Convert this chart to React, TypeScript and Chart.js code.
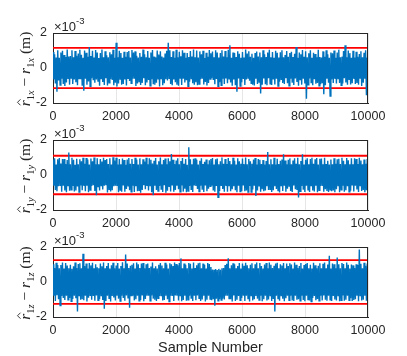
import React, { useEffect, useRef } from "react";
import { Chart, registerables } from "chart.js";

Chart.register(...registerables);

// ---------------- data ----------------
// Estimation error samples, in units of 1e-5 m (plotted as x10^-3 m).
const SAMPLE_MAX = 10000;
const xTickStep = 2000;
const yTickValues = [-2, 0, 2];
const axisLetters = ["x", "y", "z"];
const thresholds = [1.15, 1.1, 1.25]; // x10^-3 m

const errX = [
  92,-65,78,-88,60,-136,102,-72,58,-97,88,-62,99,-91,74,-103,63,-83,105,-59,
  66,-95,69,-57,101,-92,61,-66,97,-81,70,-99,83,-60,104,-64,76,-101,58,-130,
  100,-62,87,-96,64,-77,120,-104,68,-59,98,-70,60,-84,103,-65,89,-75,57,-102,
  85,-60,106,-80,62,-97,96,-58,73,-100,61,-85,90,-63,79,-68,104,-99,59,-84,
  144,-105,61,-88,99,-63,86,-95,58,-91,93,-66,64,-100,92,-59,97,-74,60,-87,
  103,-62,88,-61,95,-103,70,-89,60,-77,86,-97,64,-85,105,-58,79,-99,62,-83,
  97,-68,58,-102,89,-64,103,-93,65,-96,60,-84,100,-62,77,-106,95,-60,66,-98,
  60,-87,83,-64,99,-72,144,-59,102,-92,63,-99,96,-66,58,-81,104,-95,61,-101,
  93,-58,67,-97,101,-62,87,-83,59,-70,85,-104,63,-79,97,-60,66,-87,106,-96,
  62,-82,100,-99,60,-91,95,-64,78,-61,98,-94,57,-80,87,-100,64,-86,103,-63,
  84,-59,94,-68,61,-93,102,-63,89,-105,60,-81,86,-99,101,-62,65,-92,97,-60,
  62,-87,104,-61,130,-83,59,-101,88,-65,85,-98,63,-136,95,-60,81,-103,58,-82,
  92,-63,60,-97,105,-66,83,-58,96,-73,64,-88,82,-95,59,-100,86,-62,94,-92,
  65,-80,89,-146,61,-96,101,-60,78,-93,63,-99,88,-59,104,-90,62,-97,92,-66,
  58,-94,99,-62,87,-103,60,-79,90,-64,102,-85,61,-92,74,-58,97,-87,64,-101,
  86,-61,93,-84,63,-97,82,-60,120,-80,59,-102,88,-66,79,-95,103,-61,64,-88,
  96,-175,62,-96,84,-60,101,-83,58,-99,87,-64,80,-90,61,-85,104,-101,63,-93,
  60,-87,95,-150,64,-98,102,-61,79,-84,58,-160,89,-65,84,-86,100,-62,59,-89,
  88,-60,105,-85,62,-99,65,-88,97,-59,130,-83,61,-96,100,-64,85,-94,58,-87,
  99,-62,60,-91,93,-86,64,-95,80,-58,96,-103,62,-84,87,-61,101,-155,60,-91,
];

const errY = [
  88,-62,95,-86,60,-93,90,-64,97,-59,66,-96,91,-61,92,-88,63,-98,86,-60,
  129,-90,61,-85,99,-63,87,-94,59,-89,93,-65,62,-97,90,-60,78,-87,98,-62,
  64,-93,97,-61,88,-99,60,-86,94,-63,79,-58,100,-92,62,-115,95,-66,61,-88,
  91,-60,77,-83,99,-62,85,-59,92,-100,63,-81,96,-94,60,-87,101,-64,83,-61,
  98,-63,60,-99,91,-86,62,-96,94,-60,86,-95,59,-80,89,-62,97,-87,64,-96,
  92,-61,63,-97,99,-64,88,-93,60,-88,95,-101,62,-86,90,-59,77,-82,98,-63,
  61,-89,96,-60,87,-98,65,-115,82,-62,97,-85,60,-91,79,-63,100,-80,62,-97,
  86,-59,94,-102,61,-90,95,-64,78,-94,120,-60,87,-96,63,-85,83,-62,96,-81,
  62,-96,80,-60,97,-95,64,-78,92,-99,59,-91,158,-63,90,-82,61,-97,93,-60,
  95,-63,87,-80,60,-94,82,-61,96,-84,63,-97,76,-60,89,-93,62,-79,84,-64,
  91,-61,97,-88,60,-96,90,-63,94,-128,62,-91,79,-59,100,-80,64,-95,92,-62,
  63,-96,97,-60,80,-93,61,-82,99,-64,82,-87,60,-99,96,-62,78,-95,64,-91,
  94,-60,62,-93,100,-88,61,-97,92,-63,79,-98,64,-83,88,-61,97,-120,60,-89,
  91,-62,87,-96,63,-81,85,-93,60,-88,80,-64,132,-86,62,-82,90,-97,61,-87,
  98,-64,60,-80,93,-89,63,-100,81,-60,89,-92,118,-62,83,-96,61,-79,87,-63,
  95,-92,62,-97,83,-60,96,-81,64,-86,99,-128,61,-93,80,-63,118,-84,60,-97,
  87,-61,96,-85,62,-97,92,-60,98,-89,64,-94,90,-61,97,-99,60,-88,93,-63,
  94,-62,61,-96,98,-81,63,-92,82,-97,60,-85,89,-93,62,-88,96,-99,64,-82,
  90,-60,93,-98,63,-84,99,-61,81,-95,61,-87,97,-64,84,-96,62,-90,95,-60,
  61,-94,96,-62,91,-83,63,-97,98,-60,83,-92,61,-86,89,-99,64,-87,92,-62,
];

const errZ = [
  102,-78,80,-108,110,-76,97,-99,78,-135,97,-80,112,-92,77,-103,108,-79,94,-101,
  79,-91,99,-110,76,-97,90,-78,111,-93,80,-168,103,-77,107,-101,78,-98,162,-104,
  91,-79,106,-112,77,-90,109,-76,95,-102,110,-80,78,-107,101,-77,84,-105,79,-99,
  105,-77,90,-103,112,-153,78,-108,92,-79,108,-93,77,-111,95,-80,110,-89,78,-106,
  94,-79,109,-95,77,-109,91,-78,113,-92,79,-107,157,-77,106,-90,80,-147,93,-78,
  98,-79,107,-105,77,-99,111,-78,101,-108,80,-103,105,-77,109,-110,78,-97,102,-79,
  106,-78,80,-107,88,-77,112,-95,79,-102,90,-109,77,-93,99,-80,108,-78,94,-106,
  78,-103,110,-79,100,-99,77,-111,107,-78,102,-80,91,-108,112,-77,103,-79,96,-105,
  109,-77,135,-110,79,-103,106,-78,99,-107,78,-101,108,-79,104,-92,77,-109,111,-78,
  80,-104,96,-77,107,-93,110,-108,78,-100,105,-79,98,-111,77,-102,109,-78,103,-98,
  86,-104,72,-99,70,-135,74,-96,68,-107,75,-98,70,-103,78,-95,80,-100,97,-79,
  104,-78,135,-94,79,-99,95,-111,107,-77,102,-109,78,-101,91,-80,108,-104,77,-92,
  106,-79,93,-108,110,-78,96,-94,79,-111,99,-77,107,-105,78,-99,101,-80,112,-95,
  78,-103,109,-79,92,-110,77,-98,100,-78,108,-106,79,-100,111,-77,98,-109,80,-97,
  93,-168,105,-78,110,-95,79,-107,101,-77,94,-96,108,-110,78,-93,106,-79,92,-104,
  107,-78,100,-105,77,-108,112,-79,98,-101,80,-99,91,-107,109,-78,77,-103,97,-110,
  103,-79,108,-100,78,-106,99,-111,77,-92,110,-80,96,-104,79,-97,93,-108,107,-78,
  79,-105,104,-77,111,-101,78,-107,100,-79,150,-102,77,-109,106,-80,102,-100,78,-106,
  140,-78,101,-110,79,-104,109,-77,103,-107,78,-101,112,-79,99,-105,77,-93,100,-108,
  95,-103,80,-99,102,-78,97,-110,185,-77,104,-106,79,-101,110,-78,93,-107,105,-79,
];

const series = [errX, errY, errZ];

// ---------------- layout / style ----------------
const W = 407;
const H = 356;
const PLOT_LEFT = 53;
const PLOT_RIGHT = 368;
const PLOT_TOP = [33, 140, 247];
const PLOT_BOTTOM = [103, 210, 317];
const XAXIS_H = 22;

const BLUE = "#0072BD";
const RED = "#FF0000";
const AXIS = "#262626";
const GRID = "#e6e6e6";
const SANS = "'Liberation Sans', Arial, Helvetica, sans-serif";
const SERIF = "'Liberation Serif', 'DejaVu Serif', serif";
const TICK_FONT = 12.5;

function drawYLabel(ctx: CanvasRenderingContext2D, cx: number, cy: number, letter: string) {
  const big = 15.5;
  const small = 10.5;
  const it = (s: number) => `italic ${s}px ${SERIF}`;
  const up = (s: number) => `${s}px ${SERIF}`;
  const parts = [
    { t: "r", f: it(big), dy: 0, hat: true },
    { t: "1", f: up(small), dy: 3.5 },
    { t: letter, f: it(small), dy: 3.5 },
    { t: " \u2212 ", f: up(big), dy: 0 },
    { t: "r", f: it(big), dy: 0 },
    { t: "1", f: up(small), dy: 3.5 },
    { t: letter, f: it(small), dy: 3.5 },
    { t: " (m)", f: up(big), dy: 0 },
  ];
  ctx.save();
  ctx.translate(cx, cy);
  ctx.rotate(-Math.PI / 2);
  ctx.fillStyle = AXIS;
  ctx.strokeStyle = AXIS;
  ctx.textAlign = "left";
  ctx.textBaseline = "alphabetic";
  let total = 0;
  const widths = parts.map((p) => {
    ctx.font = p.f;
    const w = ctx.measureText(p.t).width;
    total += w;
    return w;
  });
  let x = -total / 2;
  parts.forEach((p, i) => {
    ctx.font = p.f;
    ctx.fillText(p.t, x, p.dy);
    if ((p as any).hat) {
      const hx = x + widths[i] / 2 + 1;
      ctx.beginPath();
      ctx.lineWidth = 0.9;
      ctx.moveTo(hx - 3, -9.5);
      ctx.lineTo(hx, -12.5);
      ctx.lineTo(hx + 3, -9.5);
      ctx.stroke();
    }
    x += widths[i];
  });
  ctx.restore();
}

function makeDecorPlugin(k: number) {
  return {
    id: "decor" + k,
    afterDraw(chart: any) {
      const ctx: CanvasRenderingContext2D = chart.ctx;
      const a = chart.chartArea;
      ctx.save();
      ctx.strokeStyle = AXIS;
      ctx.lineWidth = 1;
      ctx.beginPath();
      ctx.moveTo(a.left, Math.round(a.top) + 0.5);
      ctx.lineTo(a.right, Math.round(a.top) + 0.5);
      ctx.moveTo(Math.round(a.right) - 0.5, a.top);
      ctx.lineTo(Math.round(a.right) - 0.5, a.bottom);
      ctx.stroke();
      ctx.fillStyle = AXIS;
      ctx.textAlign = "left";
      ctx.textBaseline = "alphabetic";
      ctx.font = `13px ${SANS}`;
      const base = "\u00d710";
      ctx.fillText(base, a.left + 1, a.top - 2.5);
      const bw = ctx.measureText(base).width;
      ctx.font = `9.5px ${SANS}`;
      ctx.fillText("-3", a.left + 1 + bw, a.top - 9.5);
      drawYLabel(ctx, 30, (a.top + a.bottom) / 2 + 1, axisLetters[k]);
      if (k === series.length - 1) {
        ctx.font = `14.5px ${SANS}`;
        ctx.textAlign = "center";
        ctx.fillStyle = AXIS;
        ctx.fillText("Sample Number", (a.left + a.right) / 2, 352);
      }
      ctx.restore();
    },
  };
}

function buildConfig(k: number): any {
  const vals = series[k];
  const thr = thresholds[k];
  const pts = vals.map((v, i) => ({ x: (i * SAMPLE_MAX) / (vals.length - 1), y: v / 100 }));
  return {
    type: "line",
    data: {
      datasets: [
        { data: pts, borderColor: BLUE, borderWidth: 1.4, pointRadius: 0, tension: 0, fill: false },
        { data: [{ x: 0, y: thr }, { x: SAMPLE_MAX, y: thr }], borderColor: RED, borderWidth: 1.8, pointRadius: 0, fill: false },
        { data: [{ x: 0, y: -thr }, { x: SAMPLE_MAX, y: -thr }], borderColor: RED, borderWidth: 1.8, pointRadius: 0, fill: false },
      ],
    },
    options: {
      animation: false,
      responsive: false,
      devicePixelRatio: 1,
      events: [],
      layout: {
        padding: { left: 0, right: W - PLOT_RIGHT, top: PLOT_TOP[k], bottom: H - PLOT_BOTTOM[k] - XAXIS_H },
      },
      plugins: { legend: { display: false }, tooltip: { enabled: false } },
      scales: {
        x: {
          type: "linear",
          min: 0,
          max: SAMPLE_MAX,
          afterFit: (s: any) => { s.height = XAXIS_H; },
          ticks: {
            stepSize: xTickStep,
            autoSkip: false,
            maxRotation: 0,
            color: AXIS,
            padding: 6,
            font: { family: SANS, size: TICK_FONT },
            callback: (v: any) => String(v),
          },
          grid: { color: GRID, lineWidth: 1, drawTicks: false },
          border: { color: AXIS, width: 1 },
        },
        y: {
          type: "linear",
          min: yTickValues[0],
          max: yTickValues[yTickValues.length - 1],
          afterFit: (s: any) => { s.width = PLOT_LEFT; },
          afterBuildTicks: (s: any) => { s.ticks = yTickValues.map((v) => ({ value: v })); },
          ticks: {
            color: AXIS,
            padding: 6,
            font: { family: SANS, size: TICK_FONT },
            callback: (v: any) => String(v),
          },
          grid: { color: GRID, lineWidth: 1, drawTicks: false },
          border: { color: AXIS, width: 1 },
        },
      },
    },
    plugins: [makeDecorPlugin(k)],
  };
}

function Panel({ k }: { k: number }) {
  const ref = useRef<HTMLCanvasElement | null>(null);
  useEffect(() => {
    if (!ref.current) return;
    const chart = new Chart(ref.current, buildConfig(k));
    return () => chart.destroy();
  }, [k]);
  return (
    <canvas
      ref={ref}
      width={W}
      height={H}
      style={{ position: "absolute", left: 0, top: 0, width: W, height: H }}
    />
  );
}

export default function App() {
  return (
    <div style={{ position: "fixed", left: 0, top: 0, width: W, height: H, background: "#ffffff", overflow: "hidden" }}>
      {series.map((_, k) => (
        <Panel key={k} k={k} />
      ))}
    </div>
  );
}
